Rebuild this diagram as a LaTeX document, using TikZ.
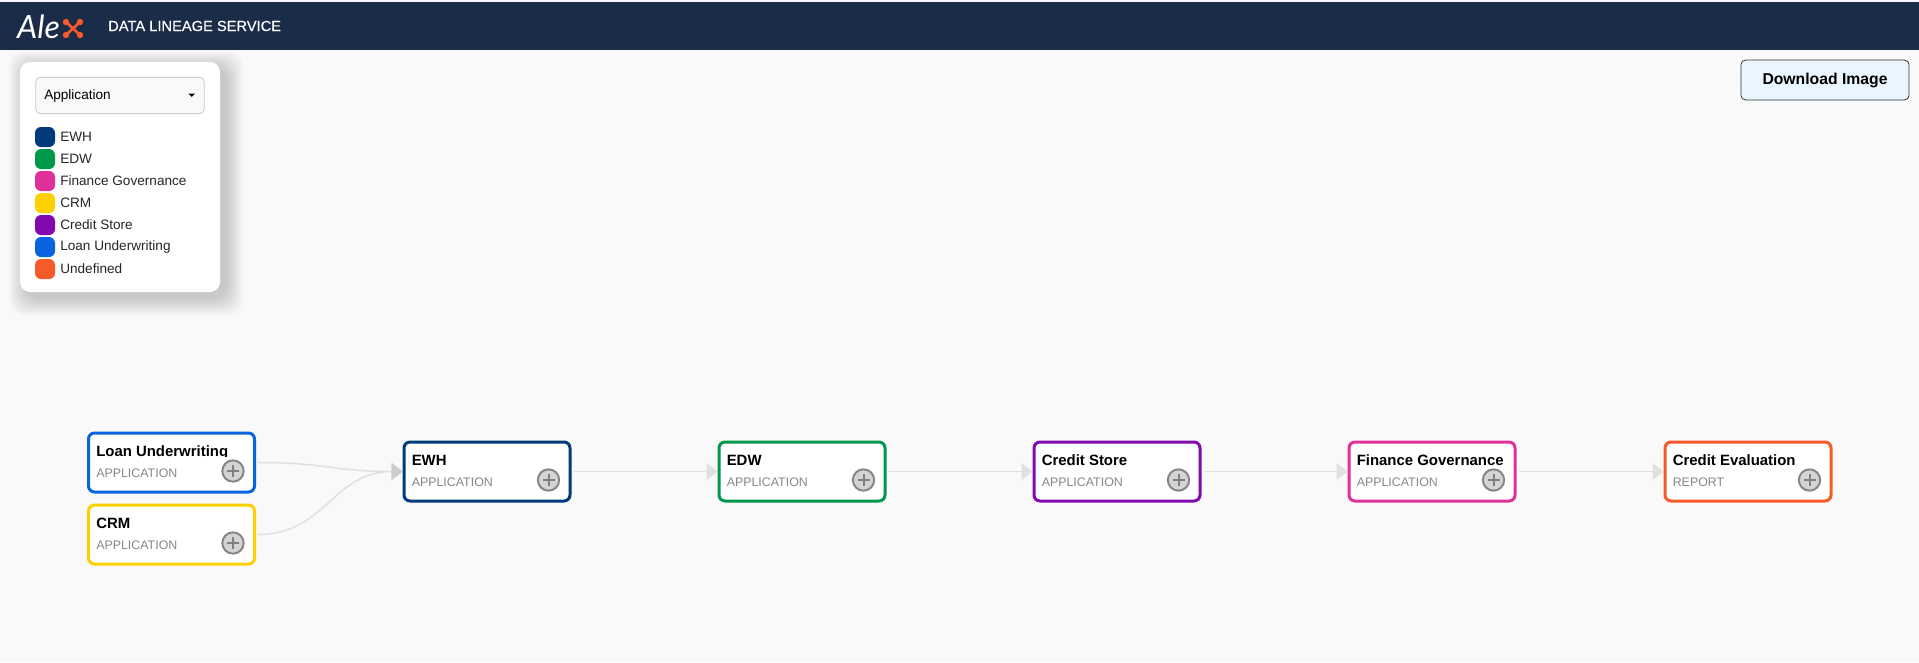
\documentclass[tikz,border=0pt]{standalone}
\usepackage{fontspec}
\setmainfont{Liberation Sans}
\newfontfamily\logofont{Lato}
\newfontfamily\medfont{Liberation Sans}[FakeBold=0.35]
\usetikzlibrary{arrows.meta}
\definecolor{pagebg}{HTML}{F9F9F9}
\definecolor{headbar}{HTML}{1B2C48}
\definecolor{ewhcol}{HTML}{003A78}
\definecolor{edwcol}{HTML}{00984A}
\definecolor{fincol}{HTML}{E0319B}
\definecolor{crmcol}{HTML}{FFD000}
\definecolor{storecol}{HTML}{8209B0}
\definecolor{loancol}{HTML}{0A64E0}
\definecolor{undefcol}{HTML}{F65A28}
\definecolor{btnfill}{HTML}{EAF6FF}
\definecolor{linkcol}{HTML}{E0E0E0}
\definecolor{tipcol}{HTML}{CCCCCC}
\tikzset{appbox/.style = {draw, fill = white, rounded corners = 4.5pt, line width = 2.25pt,
                          minimum width = 124.5pt, minimum height = 44.25pt, inner sep = 0}}
\tikzset{apptitle/.style = {anchor = base west, inner sep = 0, font = \bfseries\fontsize{11.2}{13}\selectfont}}
\tikzset{appkind/.style = {anchor = base west, inner sep = 0, text = black!47, font = \fontsize{9.3}{11}\selectfont}}
\tikzset{plusbtn/.style = {circle, draw = black!47, fill = black!17, line width = 1.5pt,
                           minimum size = 16pt, inner sep = 0}}
\tikzset{plusmark/.style = {draw = black!50, line width = 1.5pt}}
\tikzset{link/.style = {linkcol, line width = 1.1pt, shorten < = 1.5pt,
                        -{Triangle[length = 8.25pt, width = 12.75pt, sep = 0pt]}}}
\tikzset{mergelink/.style = {link, -{Triangle[length = 8.25pt, width = 12.75pt, color = tipcol]}}}
\tikzset{swatch/.style = {rounded corners = 4.5pt, minimum size = 15pt, inner sep = 0}}
\tikzset{legendtext/.style = {anchor = west, inner sep = 0, text = black!85, font = \fontsize{10.2}{12}\selectfont}}

\begin{document}
\begin{tikzpicture}[x = .75pt, y = -.75pt]
  \useasboundingbox (0, 0) rectangle (1919, 662);
  \fill [pagebg] (0, 0) rectangle (1919, 662);
  \fill [headbar] (0, 2) rectangle (1919, 50);

  \node (logotext) at (38.5, 27) [text = white, inner sep = 0, font = \logofont\itshape\fontsize{24}{24}\selectfont] {Ale};
  \draw [undefcol, line width = 2pt] (66, 22) -- (80, 35) (80, 22) -- (66, 35);
  \foreach \dotx/\doty in {66/22, 80/22, 66/35, 80/35}
    \fill [undefcol] (\dotx, \doty) circle [radius = 3.2];
  \node (headtitle) at (108, 26) [anchor = west, inner sep = 0, text = white, font = \medfont\fontsize{11}{13}\selectfont] {DATA LINEAGE SERVICE};

  \node (download) at (1825, 80) [draw = black!80, fill = btnfill, rounded corners = 3.5pt, line width = .6pt,
    minimum width = 126pt, minimum height = 30pt, inner sep = 0, font = \bfseries\fontsize{11.8}{14}\selectfont] {Download Image};

  \foreach \grow in {1, ..., 16}
    \fill [black, opacity = .013, rounded corners = 12pt]
      (20 + 6 - \grow * 1.1, 62 + 6 - \grow * 1.1) rectangle (220 + 6 + \grow * 1.1, 292 + 6 + \grow * 1.1);
  \fill [white, rounded corners = 7.5pt] (20, 62) rectangle (220, 292);

  \node (selectbox) at (120, 95.5) [draw = black!20, fill = pagebg, rounded corners = 3.5pt, line width = .6pt,
    minimum width = 126.5pt, minimum height = 27.2pt, inner sep = 0] {};
  \node (selecttext) at (44, 96) [legendtext, text = black] {Application};
  \fill [black] (188.5, 93.5) -- (195, 93.5) -- (191.75, 96.8) -- cycle;

  \foreach \key/\col/\yy/\txt in {ewh/ewhcol/137/EWH, edw/edwcol/159/EDW, fin/fincol/181/Finance Governance,
                                  crm/crmcol/203/CRM, store/storecol/225/Credit Store,
                                  loan/loancol/247/Loan Underwriting, undef/undefcol/269/Undefined}{
    \node (sw\key) at (45, \yy) [swatch, fill = \col] {};
    \node (lb\key) at (60, \yy) [legendtext] {\txt};
  }

  \foreach \name/\xx/\yy/\col/\titletext/\kind in {loanbox/171.5/462.5/loancol/Loan Underwriting/APPLICATION,
                                                   crmbox/171.5/534.5/crmcol/CRM/APPLICATION,
                                                   ewhbox/487/471.5/ewhcol/EWH/APPLICATION,
                                                   edwbox/802/471.5/edwcol/EDW/APPLICATION,
                                                   storebox/1117/471.5/storecol/Credit Store/APPLICATION,
                                                   finbox/1432/471.5/fincol/Finance Governance/APPLICATION,
                                                   evalbox/1748/471.5/undefcol/Credit Evaluation/REPORT}{
    \node (\name) at (\xx, \yy) [appbox, draw = \col] {};
    \begin{scope}
      \clip ([shift = {(5, 6)}]\name.north west) rectangle ([shift = {(167, 25)}]\name.north west);
      \node (\name title) at ([shift = {(9, 24.5)}]\name.north west) [apptitle] {\titletext};
    \end{scope}
    \node (\name kind) at ([shift = {(9, 45.5)}]\name.north west) [appkind] {\kind};
    \node (\name btn) at ([shift = {(61.5, 8.5)}]\name.center) [plusbtn] {};
    \draw [plusmark] ([shift = {(-6, 0)}]\name btn.center) -- ([shift = {(6, 0)}]\name btn.center);
    \draw [plusmark] ([shift = {(0, -6)}]\name btn.center) -- ([shift = {(0, 6)}]\name btn.center);
  }

  \draw [mergelink] (loanbox.east) .. controls +(70, 0) and +(-70, 0) .. (ewhbox.west);
  \draw [mergelink] (crmbox.east) .. controls +(70, 0) and +(-70, 0) .. (ewhbox.west);
  \foreach \src/\dst in {ewhbox/edwbox, edwbox/storebox, storebox/finbox, finbox/evalbox}
    \draw [link] (\src.east) -- (\dst.west);
\end{tikzpicture}
\end{document}
